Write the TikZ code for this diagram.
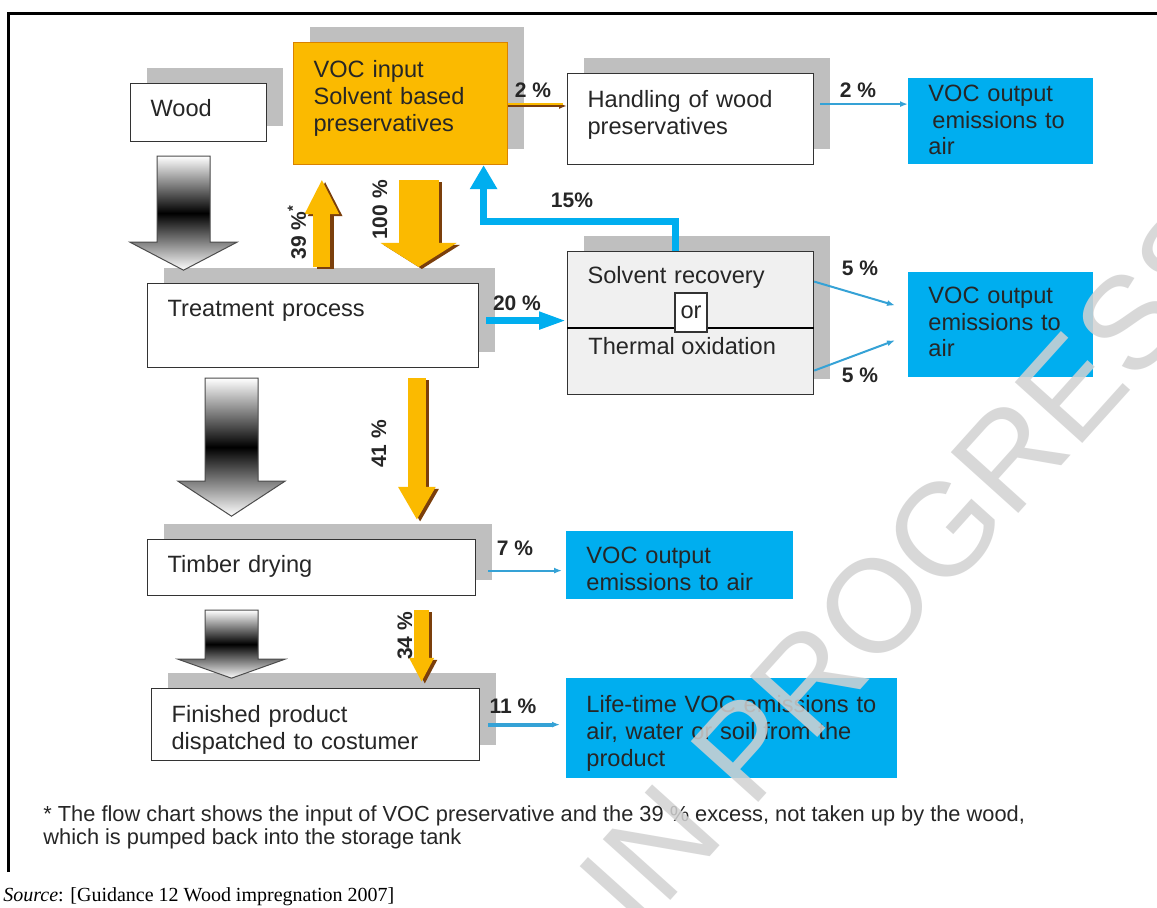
\documentclass[tikz,border=0pt]{standalone}
\usepackage{fontspec}
\setmainfont{Liberation Sans}
\newfontfamily\serifface{Liberation Serif}
\usetikzlibrary{arrows.meta,shadows}
\definecolor{vocorange}{HTML}{FBBA00}
\definecolor{oedge}{HTML}{D98200}
\definecolor{obrown}{HTML}{7B3F0C}
\definecolor{vocblue}{HTML}{00AEEF}
\definecolor{flowblue}{HTML}{35A2D6}
\definecolor{shadowgray}{HTML}{BFBFBF}
\definecolor{solvfill}{HTML}{F0F0F0}
\definecolor{ink}{HTML}{262626}
\definecolor{wmgray}{HTML}{D2D2D2}
\tikzset{
  boxtext/.style={anchor=north west, inner xsep=10pt, inner ysep=0pt, align=left, text=ink,
    font=\fontsize{11.8}{13.4}\selectfont},
  box/.style={boxtext, draw=black!80, line width=0.6pt, fill=white,
    general shadow={fill=shadowgray, shadow xshift=8pt, shadow yshift=8pt}},
  outbox/.style={boxtext, fill=vocblue},
  pct/.style={font=\bfseries\fontsize{10.5}{12}\selectfont, text=ink, inner sep=0pt},
  oflow/.style={draw=vocorange, line width=#1},
  oshade/.style={draw=obrown, line width=#1, transform canvas={xshift=1.6pt,yshift=-1pt}},
  bflow/.style={draw=vocblue, line width=3.5pt},
  thinflow/.style={draw=flowblue, line width=1pt, -{Latex[length=4pt,width=3pt]}},
  grayflow/.style={top color=white, bottom color=white, middle color=black, draw=black!70, line width=0.5pt}
}
% gray process arrow: start corner, shaft length, head length
\newcommand{\grayflow}[3]{\shadedraw[grayflow] #1 -- ++(53,0) -- ++(0,#2) -- ++(27,0) -- ++(-53.5,#3) -- ++(-53.5,-#3) -- ++(27,0) -- cycle;}
\begin{document}
\begin{tikzpicture}[x=0.5pt,y=-0.5pt]
\fill[white] (0,0) rectangle (1157,908);
\useasboundingbox (0,0) rectangle (1157,908);
\draw[line width=1.5pt] (8,872) -- (8,14) -- (1160,14);

\node (wood) [box, minimum width=68pt, text width=48pt, text height=16.5pt, text depth=12.5pt] at (130,83) {Wood};
\node (vocin) [box, fill=vocorange, draw=oedge, minimum width=107pt, text width=87pt, text height=17.5pt, text depth=43.5pt] at (293,42) {VOC input\\Solvent based\\preservatives};
\node (handling) [box, minimum width=123pt, text width=103pt, text height=17pt, text depth=28.5pt] at (567,73) {Handling of wood\\preservatives};
\node (outtop) [outbox, minimum width=92.5pt, text width=72.5pt, text height=11.5pt, text depth=31.5pt] at (908,78) {VOC output\\\hspace*{2pt}emissions to\\air};
\node (treat) [box, minimum width=165.5pt, text width=145.5pt, text height=16.5pt, text depth=25.5pt] at (147,283) {Treatment process};
\node (solvent) [box, fill=solvfill, minimum width=123pt, text width=103pt, text height=16pt, text depth=55.5pt] at (567,251) {Solvent recovery};
\draw[line width=0.6pt] ([yshift=-38.5pt]solvent.north west) -- ([yshift=-38.5pt]solvent.north east);
\node (or) [draw=black!80, fill=white, line width=0.6pt, minimum width=16pt, minimum height=19.5pt, inner sep=0pt, text=ink, font=\fontsize{11.8}{13.4}\selectfont] at ([xshift=62pt,yshift=-30.75pt]solvent.north west) {or};
\node (thermal) [anchor=base west, inner sep=0pt, text=ink, font=\fontsize{11.8}{13.4}\selectfont] at ([xshift=10.5pt,yshift=-52pt]solvent.north west) {Thermal oxidation};
\node (outmid) [outbox, minimum width=92.5pt, text width=72.5pt, text height=15.5pt, text depth=37pt] at (908,272) {VOC output\\emissions to\\air};
\node (timber) [box, minimum width=164pt, text width=144pt, text height=16.5pt, text depth=11.5pt] at (147,539) {Timber drying};
\node (outdry) [outbox, minimum width=113.5pt, text width=93.5pt, text height=16pt, text depth=18pt] at (566,531) {VOC output\\emissions to air};
\node (finished) [box, minimum width=164pt, text width=144pt, text height=17pt, text depth=19pt] at (151,688) {Finished product\\dispatched to costumer};
\node (life) [outbox, minimum width=165.5pt, text width=145.5pt, text height=17pt, text depth=33pt] at (566,678) {Life-time VOC emissions to\\air, water or soil from the\\product};

\grayflow{([xshift=13.5pt,yshift=-7pt]wood.south west)}{86}{28}
\grayflow{([xshift=29pt,yshift=-5pt]treat.south west)}{103}{35}
\grayflow{([xshift=29pt,yshift=-7pt]timber.south west)}{49}{19}

\coordinate (o100) at ([xshift=9pt,yshift=-7.5pt]vocin.south);
\coordinate (o39) at ([xshift=4.4pt,yshift=8pt]treat.north);
\coordinate (o41) at ([xshift=51.9pt,yshift=-5pt]treat.south);
\coordinate (o34) at ([xshift=55pt,yshift=-7pt]timber.south);
\foreach \sty in {oshade,oflow}{
  \draw[\sty=20pt, -{Triangle[width=37.5pt,length=12pt]}, shorten >=8pt] (o100) -- (o100 |- treat.north);
  \draw[\sty=8.5pt, -{Triangle[width=16pt,length=17.5pt]}, shorten >=7pt] (o39) -- (o39 |- vocin.south);
  \draw[\sty=9pt, -{Triangle[width=17.5pt,length=16.5pt]}, shorten >=9.5pt] (o41) -- (o41 |- timber.north);
  \draw[\sty=7.5pt, -{Triangle[width=11.5pt,length=12pt]}, shorten >=3pt] (o34) -- (o34 |- finished.north);
}
\draw[draw=obrown, line width=0.8pt, transform canvas={yshift=-1.2pt}, -{Latex[length=4pt,width=3pt]}] (vocin.east) -- (vocin.east -| handling.west);
\draw[draw=vocorange, line width=1pt] (vocin.east) -- ([xshift=-2pt]vocin.east -| handling.west);

\coordinate (b20) at ([xshift=3.5pt,yshift=2.5pt]treat.east);
\draw[bflow, -{Triangle[width=8pt,length=14pt]}] (b20) -- (b20 -| solvent.west);
\draw[bflow, -{Triangle[width=13pt,length=12pt]}] ([xshift=-7.5pt]solvent.north) -- ++(0,-29) -| ([xshift=41.5pt]vocin.south);
\coordinate (b2) at ([xshift=3pt,yshift=7.5pt]handling.east);
\draw[thinflow] (b2) -- (b2 -| outtop.west);
\draw[thinflow] ([yshift=20.75pt]solvent.east) -- ([xshift=-6.5pt,yshift=9.75pt]outmid.west);
\draw[thinflow] ([yshift=-23.75pt]solvent.east) -- ([xshift=-6.5pt,yshift=-7.75pt]outmid.west);
\coordinate (b7) at ([xshift=6pt,yshift=-1.5pt]timber.east);
\draw[thinflow, shorten >=2pt] (b7) -- (b7 -| outdry.west);
\coordinate (b11) at ([xshift=4pt]finished.east);
\draw[thinflow, line width=2pt, shorten >=3pt] (b11) -- (b11 -| life.west);

\node[pct] (p2o) at (533,90) {2 \%};
\node[pct] (p2b) at (858,90) {2 \%};
\node[pct] (p15) at (572,200) {15\%};
\node[pct] (p20) at (517,303) {20 \%};
\node[pct] (p5a) at (860,268) {5 \%};
\node[pct] (p5b) at (860,375) {5 \%};
\node[pct] (p7) at (515,548) {7 \%};
\node[pct] (p11) at (513,706) {11 \%};
\node[pct, rotate=90] (p39) at (297,232) {39 \%\textsuperscript{*}};
\node[pct, rotate=90] (p100) at (380,210) {100 \%};
\node[pct, rotate=90] (p41) at (379,444) {41 \%};
\node[pct, rotate=90] (p34) at (405,636) {34 \%};

\node (note) [anchor=base west, align=left, inner sep=0pt, text=ink, font=\fontsize{10.9}{11.5}\selectfont] at (43,844) {* The flow chart shows the input of VOC preservative and the 39 \% excess, not taken up by the wood,\\which is pumped back into the storage tank};
\node (source) [anchor=base west, inner sep=0pt, font=\serifface\fontsize{10}{12}\selectfont] at (3,901) {\textit{Source}: [Guidance 12 Wood impregnation 2007]};

\node (wm) [rotate=48, text=wmgray, opacity=0.85, font=\fontsize{66}{66}\selectfont] at (912,565) {IN PROGRESS};
\end{tikzpicture}
\end{document}
